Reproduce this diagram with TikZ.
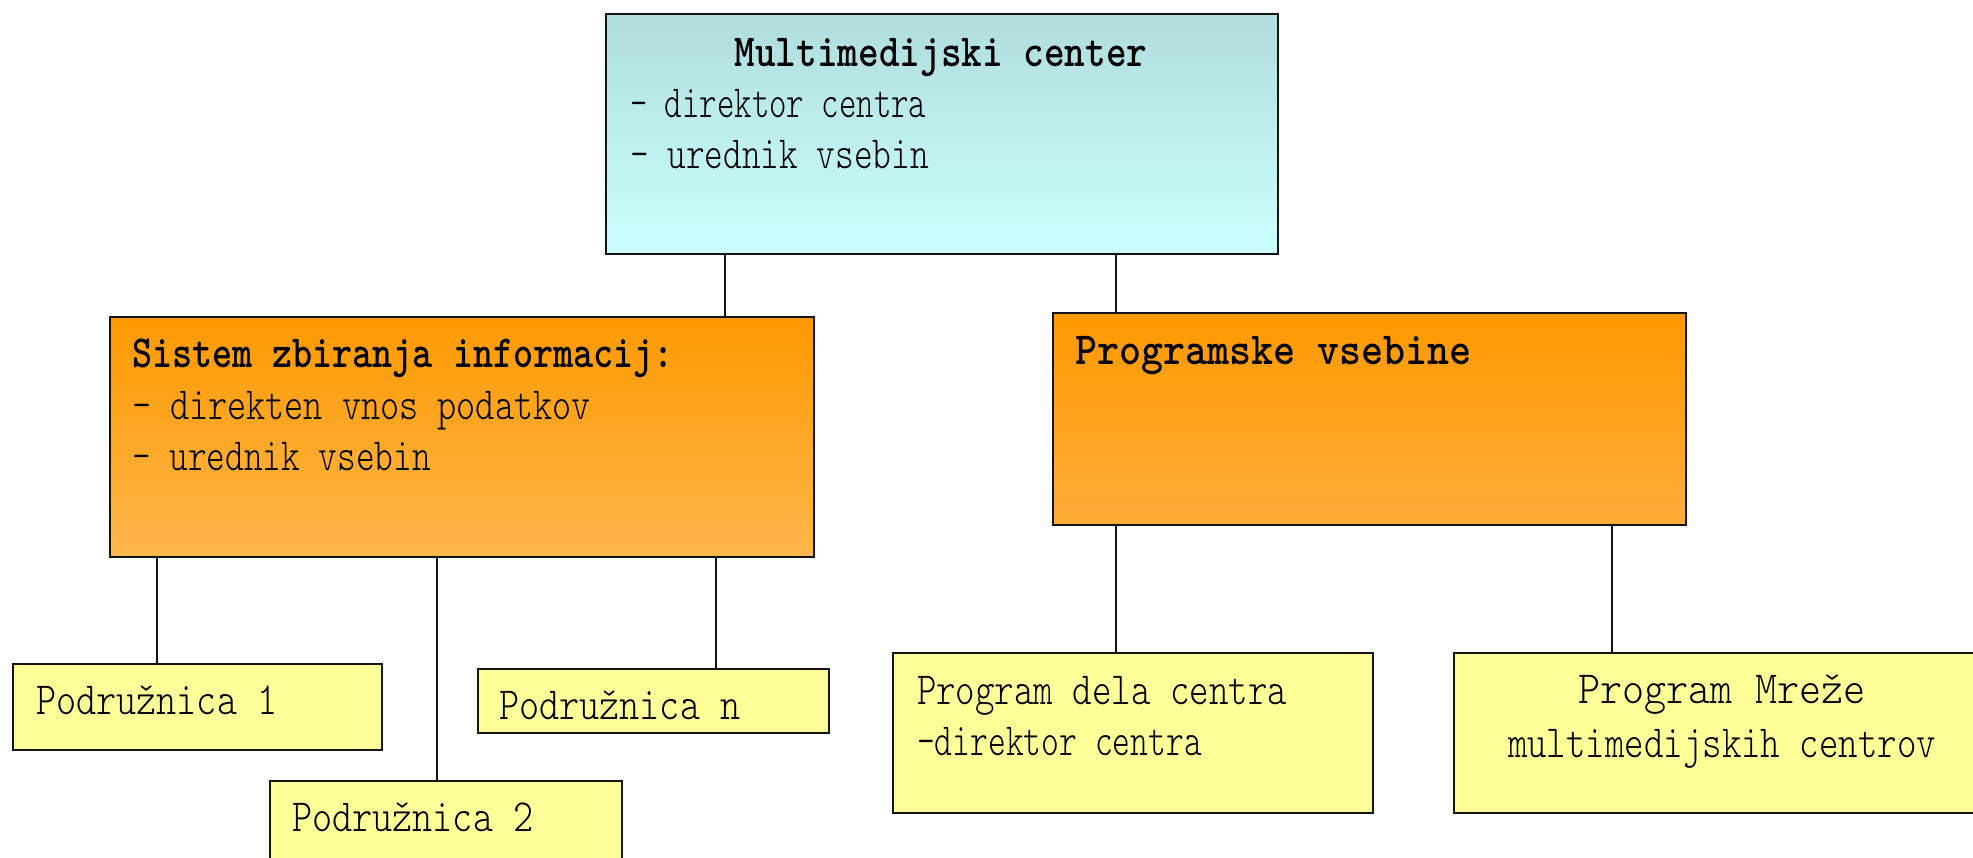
\documentclass[tikz,border=0pt]{standalone}
\usepackage{fontspec}
\usepackage{graphicx}
\newfontfamily\tnrfam{Liberation Serif}
\newfontfamily\courfam{lmmonolt10-regular.otf}[BoldFont=lmmonolt10-bold.otf]
\newlength\cwlen
\newcommand\cw[1]{\settowidth\cwlen{\tnrfam #1}\resizebox{\cwlen}{\height}{\courfam #1}}
\definecolor{tealtop}{RGB}{176,221,221}
\definecolor{tealbot}{RGB}{204,255,255}
\definecolor{orgtop}{RGB}{255,153,0}
\definecolor{orgbotA}{RGB}{253,183,76}
\definecolor{orgbotB}{RGB}{255,173,58}
\definecolor{yel}{RGB}{255,255,153}
\definecolor{edge}{RGB}{20,20,20}
\tikzset{
  boxnode/.style={draw=edge, line width=2pt, rectangle, inner sep=0pt, anchor=north west},
  topbox/.style={boxnode, top color=tealtop, bottom color=tealbot},
  orangeA/.style={boxnode, top color=orgtop, bottom color=orgbotA},
  orangeB/.style={boxnode, top color=orgtop, bottom color=orgbotB},
  yelbox/.style={boxnode, fill=yel},
  txt/.style={inner sep=0pt, outer sep=0pt, anchor=base west, font=\fontsize{46}{51}\selectfont},
  txtc/.style={txt, anchor=base},
  btxt/.style={txt, font=\fontsize{46}{51}\selectfont\bfseries},
  btxtc/.style={btxt, anchor=base},
  conn/.style={draw=edge, line width=1.8pt}
}
\begin{document}
\begin{tikzpicture}[x=1pt,y=-1pt]
\fill[white] (0,0) rectangle (1973,857);
\useasboundingbox (0,0) rectangle (1973,857);
% boxes
\node[topbox, minimum width=672pt, minimum height=240pt] (top) at (605,13) {};
\node[orangeA, minimum width=704pt, minimum height=240pt] (sys) at (109,316) {};
\node[orangeB, minimum width=633pt, minimum height=212pt] (prog) at (1052,312) {};
\node[yelbox, minimum width=369pt, minimum height=86pt] (p1) at (12,663) {};
\node[yelbox, minimum width=351pt, minimum height=64pt] (pn) at (477,668) {};
\node[yelbox, minimum width=352pt, minimum height=100pt] (p2) at (269,780) {};
\node[yelbox, minimum width=480pt, minimum height=160pt] (pdc) at (892,652) {};
\node[yelbox, minimum width=542pt, minimum height=160pt] (pm) at (1453,652) {};
% texts
\node[btxtc] (t1) at (941,66) {\cw{Multimedijski center}};
\node[txt] (t2) at (630,117) {\cw{- direktor centra}};
\node[txt] (t3) at (630,168) {\cw{- urednik vsebin}};
\node[btxt] (s1) at (132,367) {\cw{Sistem zbiranja informacij:}};
\node[txt] (s2) at (132,419) {\cw{- direkten vnos podatkov}};
\node[txt] (s3) at (132,470) {\cw{- urednik vsebin}};
\node[btxt] (r1) at (1075,364) {\cw{Programske vsebine}};
\node[txt] (q1) at (36,714) {\cw{Podružnica 1}};
\node[txt] (qn) at (499,719) {\cw{Podružnica n}};
\node[txt] (q2) at (292,831) {\cw{Podružnica 2}};
\node[txt] (d1) at (917,704) {\cw{Program dela centra}};
\node[txt] (d2) at (917,755) {\cw{-direktor centra}};
\node[txtc] (m1) at (1722,703) {\cw{Program Mreže}};
\node[txtc] (m2) at (1722,757) {\cw{multimedijskih centrov}};
% connector columns
\coordinate (xa) at (725,0);
\coordinate (xb) at (1116,0);
\coordinate (xc) at (157,0);
\coordinate (xd) at (437,0);
\coordinate (xe) at (716,0);
\coordinate (xf) at (1612,0);
\draw[conn] (top.south -| xa) -- (sys.north -| xa);
\draw[conn] (top.south -| xb) -- (prog.north -| xb);
\draw[conn] (sys.south -| xc) -- (p1.north -| xc);
\draw[conn] (sys.south -| xd) -- (p2.north -| xd);
\draw[conn] (sys.south -| xe) -- (pn.north -| xe);
\draw[conn] (prog.south -| xb) -- (pdc.north -| xb);
\draw[conn] (prog.south -| xf) -- (pm.north -| xf);
\end{tikzpicture}
\end{document}
